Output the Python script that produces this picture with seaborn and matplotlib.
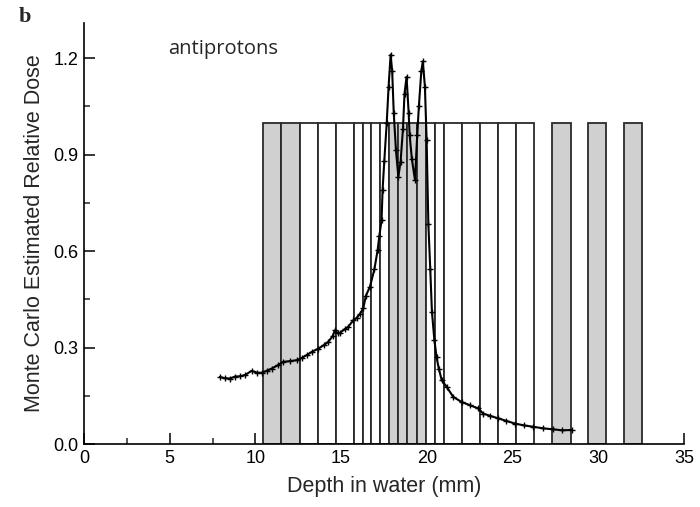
import matplotlib
matplotlib.use("Agg")
import matplotlib.pyplot as plt
import seaborn as sns
import pandas as pd
import numpy as np
from matplotlib.ticker import MultipleLocator

# ---- data ----
depth_mm = [7.93, 8.2, 8.52, 8.8, 9.1, 9.4, 9.78, 10.1, 10.37, 10.65, 10.95, 11.3,
            11.63, 12.0, 12.41, 12.7, 12.99, 13.3, 13.67, 14.0, 14.25, 14.5, 14.64,
            14.8, 14.93, 15.2, 15.42, 15.71, 15.9, 16.1, 16.29, 16.45, 16.68, 16.94,
            17.13, 17.23, 17.36, 17.42, 17.52, 17.66, 17.77, 17.89, 17.98, 18.07,
            18.2, 18.34, 18.47, 18.61, 18.7, 18.82, 18.94, 19.0, 19.13, 19.31, 19.44,
            19.54, 19.68, 19.77, 19.89, 19.99, 20.09, 20.2, 20.3, 20.44, 20.57, 20.7,
            20.87, 21.16, 21.54, 22.03, 22.52, 23.0, 23.29, 23.7, 24.17, 24.6, 25.14,
            25.7, 26.21, 26.8, 27.38, 27.9, 28.45]
dose = [0.209, 0.205, 0.204, 0.210, 0.211, 0.215, 0.228, 0.222, 0.222, 0.228, 0.235,
        0.245, 0.256, 0.258, 0.261, 0.268, 0.277, 0.287, 0.297, 0.308, 0.318, 0.335,
        0.354, 0.345, 0.346, 0.357, 0.365, 0.385, 0.392, 0.405, 0.422, 0.462, 0.489,
        0.543, 0.603, 0.647, 0.696, 0.79, 0.881, 0.997, 1.111, 1.211, 1.160, 1.031,
        0.914, 0.831, 0.878, 0.981, 1.09, 1.142, 1.031, 0.96, 0.886, 0.821, 0.96,
        1.052, 1.16, 1.19, 1.111, 0.945, 0.686, 0.546, 0.411, 0.325, 0.270, 0.235,
        0.199, 0.178, 0.147, 0.131, 0.121, 0.111, 0.095, 0.088, 0.080, 0.073, 0.064,
        0.058, 0.054, 0.049, 0.046, 0.043, 0.044]

# detector layers: left edge, right edge, shaded?
layer_left = [10.42, 11.49, 12.6, 13.67, 14.7, 15.75, 16.26, 16.76, 17.27, 17.81,
              18.33, 18.86, 19.41, 19.95, 20.49, 21.02, 22.07, 23.1, 24.13, 25.18,
              27.32, 29.42, 31.5]
layer_right = [11.49, 12.6, 13.67, 14.7, 15.75, 16.26, 16.76, 17.27, 17.81, 18.33,
               18.86, 19.41, 19.95, 20.49, 21.02, 22.07, 23.1, 24.13, 25.18, 26.23,
               28.41, 30.47, 32.55]
layer_shaded = [True, True, False, False, False, False, False, False, False, True,
                True, True, True, False, False, False, False, False, False, False,
                True, True, True]
layer_height = 1.0

x_ticks = [0, 5, 10, 15, 20, 25, 30, 35]
y_ticks = [0.0, 0.3, 0.6, 0.9, 1.2]

# ---- plot ----
sns.set_theme(style="ticks")
plt.rcParams['font.family'] = ['Liberation Sans', 'DejaVu Sans']

fig = plt.figure(figsize=(7.0, 5.07), dpi=100)
ax = fig.add_axes([0.12, 0.124, 0.857, 0.831])

widths = [r - l for l, r in zip(layer_left, layer_right)]
colors = ['#d0d0d0' if s else 'white' for s in layer_shaded]
ax.bar(layer_left, [layer_height] * len(layer_left), width=widths, align='edge',
       color=colors, edgecolor='#2a2a2a', linewidth=1.3, zorder=2)

df = pd.DataFrame({'depth': depth_mm, 'dose': dose})
sns.lineplot(data=df, x='depth', y='dose', ax=ax, color='black', linewidth=1.5,
             marker='+', markersize=4, markeredgewidth=1.0, markeredgecolor='black',
             sort=False, estimator=None, zorder=3)

ax.set_xlim(0, 35)
ax.set_ylim(0, 1.31)
ax.set_xticks(x_ticks)
ax.set_yticks(y_ticks)
ax.set_yticklabels([f"{v:.1f}" for v in y_ticks])
ax.xaxis.set_minor_locator(MultipleLocator(2.5))
ax.yaxis.set_minor_locator(MultipleLocator(0.15))
ax.tick_params(which='major', direction='in', length=8, width=1.1, labelsize=13,
               colors='black', pad=4)
ax.tick_params(which='minor', direction='in', length=4, width=1.1)
for s in ['left', 'bottom']:
    ax.spines[s].set_linewidth(1.2)
    ax.spines[s].set_color('black')
sns.despine(ax=ax)

ax.set_xlabel('Depth in water (mm)', fontsize=15.5, labelpad=7)
ax.set_ylabel('Monte Carlo Estimated Relative Dose', fontsize=15.5, labelpad=6)

ax.text(4.9, 1.23, 'antiprotons', fontsize=14.5, family=['Open Sans', 'DejaVu Sans'],
        ha='left', va='center')
fig.text(0.026, 0.967, 'b', fontsize=16, fontweight='bold',
         family=['Liberation Serif', 'DejaVu Serif'], ha='left', va='center')

fig.savefig('out.png', dpi=100)
